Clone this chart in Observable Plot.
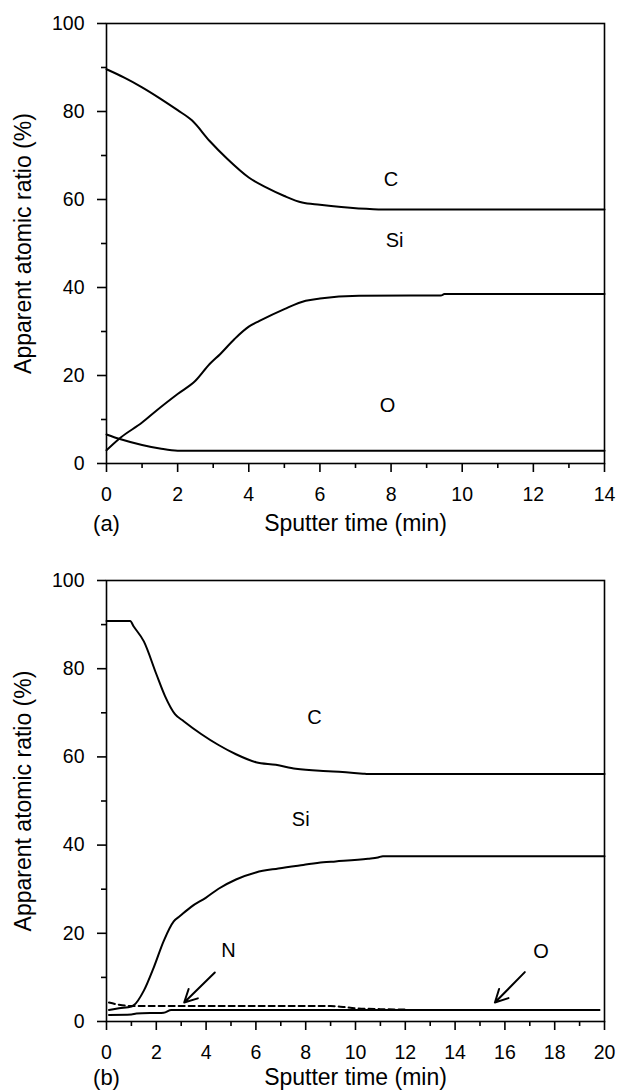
<!DOCTYPE html>
<html><head><meta charset="utf-8">
<script src="https://cdn.jsdelivr.net/npm/d3@7"></script>
<script src="https://cdn.jsdelivr.net/npm/@observablehq/plot@0.6"></script>
<style>
body{margin:0;background:#fff;}
#chart svg{display:block;}
</style>
</head><body><div id="chart"></div>
<script>
// ---- Panel (a) ----
const aTimeC = [0, 0.5, 1.0, 1.5, 2.0, 2.4, 2.9, 3.4, 4.0, 4.5, 5.0, 5.5, 6.0, 6.6, 7.5, 8.0, 14];
const aC     = [89.6, 87.7, 85.5, 83.0, 80.3, 78.0, 73.3, 69.2, 65.0, 62.7, 60.8, 59.3, 58.8, 58.3, 57.8, 57.7, 57.7];
const aTimeSi = [0, 0.4, 1.0, 1.4, 2.0, 2.5, 2.9, 3.2, 3.6, 4.0, 4.3, 5.0, 5.6, 6.0, 7.1, 9.4, 9.5, 14];
const aSi     = [3.0, 5.9, 9.3, 12.0, 15.8, 18.8, 22.6, 24.9, 28.3, 31.1, 32.4, 35.1, 37.0, 37.5, 38.1, 38.2, 38.5, 38.5];
const aTimeO = [0, 0.4, 1.0, 1.5, 2.0, 14];
const aO     = [6.6, 5.5, 4.2, 3.4, 2.9, 2.9];
const aLabels = ["C", "Si", "O"];
const aLabelX = [8.0, 8.1, 7.9];
const aLabelY = [64.6, 50.6, 13.1];

// ---- Panel (b) ----
const bTimeC = [0, 0.95, 1.1, 1.5, 2.0, 2.35, 2.75, 3.1, 3.8, 4.5, 5.2, 6.0, 6.8, 7.6, 8.7, 9.1, 10.3, 10.5, 20];
const bC     = [90.8, 90.8, 89.5, 86.2, 78.8, 73.8, 69.7, 68.1, 65.2, 62.7, 60.6, 58.8, 58.2, 57.3, 56.8, 56.7, 56.2, 56.1, 56.1];
const bTimeSi = [0.1, 0.5, 1.0, 1.1, 1.5, 1.9, 2.3, 2.7, 2.95, 3.4, 4.0, 4.5, 5.2, 6.0, 6.9, 7.9, 8.7, 9.2, 10.5, 10.9, 11.1, 20];
const bSi     = [2.6, 3.0, 3.4, 3.7, 7.0, 12.3, 18.3, 22.7, 23.9, 26.0, 28.1, 30.1, 32.2, 33.8, 34.7, 35.5, 36.1, 36.3, 36.9, 37.2, 37.5, 37.5];
const bTimeN = [0.1, 0.5, 1.0, 9.0, 9.5, 10.0, 11.0, 12.0];
const bN     = [4.3, 3.8, 3.5, 3.5, 3.3, 3.0, 2.8, 2.7];
const bTimeO = [0.1, 1.0, 1.2, 2.3, 2.6, 19.8];
const bO     = [1.5, 1.6, 1.8, 2.0, 2.6, 2.6];
const bLabels = ["C", "Si", "N", "O"];
const bLabelX = [8.35, 7.8, 4.9, 17.45];
const bLabelY = [69, 45.8, 16.1, 15.8];
const bArrowX1 = [4.35, 16.8];
const bArrowY1 = [11.1, 11.2];
const bArrowX2 = [3.12, 15.6];
const bArrowY2 = [4.3, 4.3];

// ---- Axes ----
const yMajor = [0, 20, 40, 60, 80, 100];
const yMinor = [10, 30, 50, 70, 90];
const aXMajor = [0, 2, 4, 6, 8, 10, 12, 14];
const aXMinor = [1, 3, 5, 7, 9, 11, 13];
const bXMajor = [0, 2, 4, 6, 8, 10, 12, 14, 16, 18, 20];
const bXMinor = [1, 3, 5, 7, 9, 11, 13, 15, 17, 19];
const yTitle = "Apparent atomic ratio (%)";
const xTitle = "Sputter time (min)";

const FONT = "'Liberation Sans', Arial, Helvetica, sans-serif";
const zip = (xs, ys) => xs.map((x, i) => ({x, y: ys[i]}));
const blank = () => "";

function panel({xMax, xMajor, xMinor, series, labels, arrows, tag, height, marginTop, marginBottom, titleDy}) {
  const marks = [];
  for (const s of series) {
    marks.push(Plot.line(zip(s.t, s.v), {x: "x", y: "y", curve: "monotone-x", stroke: "black",
      strokeWidth: 2, strokeDasharray: s.dash || null}));
  }
  marks.push(Plot.text(labels.names.map((n, i) => ({n, x: labels.x[i], y: labels.y[i]})),
    {x: "x", y: "y", text: "n", fontSize: 20, fill: "black"}));
  if (arrows) {
    marks.push(Plot.arrow(arrows.x1.map((d, i) => ({x1: d, y1: arrows.y1[i], x2: arrows.x2[i], y2: arrows.y2[i]})),
      {x1: "x1", y1: "y1", x2: "x2", y2: "y2", stroke: "black", strokeWidth: 2, headLength: 15, headAngle: 55}));
  }
  marks.push(Plot.frame({stroke: "black", strokeWidth: 1.6}));
  marks.push(Plot.axisY(yMajor, {tickSize: 9, tickPadding: 13, fontSize: 19.5, label: null, strokeWidth: 1.6}));
  marks.push(Plot.axisY(yMinor, {tickSize: 5, tickFormat: blank, label: null, strokeWidth: 1.6}));
  marks.push(Plot.axisX(xMajor, {tickSize: 9, tickPadding: 15, fontSize: 19.5, label: null, strokeWidth: 1.6}));
  marks.push(Plot.axisX(xMinor, {tickSize: 5, tickFormat: blank, label: null, strokeWidth: 1.6}));
  marks.push(Plot.text([xTitle], {frameAnchor: "bottom", dy: titleDy, fontSize: 23, fill: "black",
    textAnchor: "middle", lineAnchor: "middle"}));
  marks.push(Plot.text([tag], {frameAnchor: "bottom-left", dy: titleDy, fontSize: 22, fill: "black",
    textAnchor: "middle", lineAnchor: "middle"}));
  marks.push(Plot.text([yTitle], {frameAnchor: "left", dx: -83, rotate: -90, fontSize: 23, fill: "black",
    textAnchor: "middle", lineAnchor: "middle"}));
  return Plot.plot({
    width: 618, height, marginLeft: 106, marginRight: 14, marginTop, marginBottom,
    x: {domain: [0, xMax]}, y: {domain: [0, 100]},
    style: {fontFamily: FONT, fontSize: "19px", color: "black", background: "white"},
    marks
  });
}

const chart = document.getElementById("chart");
chart.append(panel({
  xMax: 14, xMajor: aXMajor, xMinor: aXMinor,
  series: [{t: aTimeC, v: aC}, {t: aTimeSi, v: aSi}, {t: aTimeO, v: aO}],
  labels: {names: aLabels, x: aLabelX, y: aLabelY},
  tag: "(a)", height: 545, marginTop: 23, marginBottom: 82, titleDy: 60
}));
chart.append(panel({
  xMax: 20, xMajor: bXMajor, xMinor: bXMinor,
  series: [{t: bTimeC, v: bC}, {t: bTimeSi, v: bSi}, {t: bTimeN, v: bN, dash: "6,4"}, {t: bTimeO, v: bO}],
  labels: {names: bLabels, x: bLabelX, y: bLabelY},
  arrows: {x1: bArrowX1, y1: bArrowY1, x2: bArrowX2, y2: bArrowY2},
  tag: "(b)", height: 547, marginTop: 35, marginBottom: 71, titleDy: 56
}));
</script>
</body></html>
